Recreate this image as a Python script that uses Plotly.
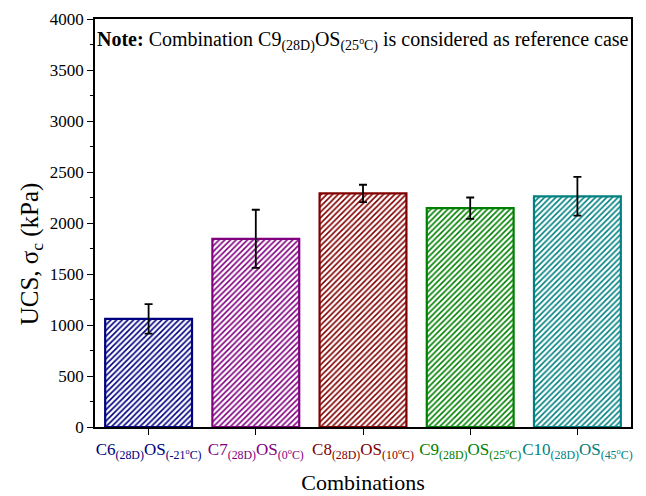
import plotly.graph_objects as go

# UCS results for each curing-temperature combination
combos = ["C6", "C7", "C8", "C9", "C10"]
temps = ["-21", "0", "10", "25", "45"]
ucs = [1060, 1845, 2290, 2145, 2262]
ucs_err = [145, 285, 85, 105, 190]
colors = ["#000080", "#800080", "#800000", "#008000", "#008080"]

FONT = "Times New Roman"

tick_text = [
    f'<span style="color:{c}">{n}<sub>(28D)</sub>OS<sub>({t}<sup>o</sup>C)</sub></span>'
    for n, t, c in zip(combos, temps, colors)
]

x = list(range(len(combos)))

fig = go.Figure()
fig.add_trace(go.Bar(
    x=x,
    y=ucs,
    width=0.81,
    marker=dict(
        color="white",
        line=dict(color=colors, width=2.2),
        pattern=dict(shape="/", fgcolor=colors, bgcolor="white",
                     size=4, solidity=0.4, fillmode="replace"),
    ),
    error_y=dict(type="data", array=ucs_err, visible=True,
                 color="black", thickness=1.8, width=4),
    showlegend=False,
))

fig.add_annotation(
    x=0.5, y=0.945, xref="paper", yref="paper",
    text="<b>Note:</b> Combination C9<sub>(28D)</sub>OS<sub>(25<sup>o</sup>C)</sub> is considered as reference case",
    showarrow=False, font=dict(family=FONT, size=20, color="black"),
    xanchor="center", yanchor="middle",
)

# y-axis title drawn as a rotated annotation so it can sit slightly low
fig.add_annotation(
    x=-0.118, y=0.425, xref="paper", yref="paper",
    text="UCS, σ<sub>c</sub> (kPa)", textangle=-90,
    showarrow=False, font=dict(family=FONT, size=25, color="black"),
    xanchor="center", yanchor="middle",
)

fig.update_layout(
    width=646, height=496,
    margin=dict(l=95, r=15, t=19, b=69, autoexpand=False),
    paper_bgcolor="white", plot_bgcolor="white",
    font=dict(family=FONT, size=17, color="black"),
    bargap=0.19,
)

fig.update_xaxes(
    range=[-0.5, 4.5],
    tickmode="array", tickvals=x, ticktext=tick_text,
    tickangle=0, automargin=False,
    ticks="outside", ticklen=6, tickwidth=1.2, tickcolor="black",
    showline=True, linecolor="black", linewidth=1.5, mirror=True,
    showgrid=False, zeroline=False,
    tickfont=dict(family=FONT, size=17),
    title=dict(text="Combinations", font=dict(family=FONT, size=22), standoff=14),
)

fig.update_yaxes(
    range=[0, 4000],
    tickvals=list(range(0, 4001, 500)),
    automargin=False,
    ticks="outside", ticklen=6, tickwidth=1.2, tickcolor="black",
    minor=dict(ticks="outside", ticklen=3, tickwidth=1, tickcolor="black", dtick=250),
    showline=True, linecolor="black", linewidth=1.5, mirror=True,
    showgrid=False, zeroline=False,
    tickfont=dict(family=FONT, size=17),
)

fig.write_html("out.html")
